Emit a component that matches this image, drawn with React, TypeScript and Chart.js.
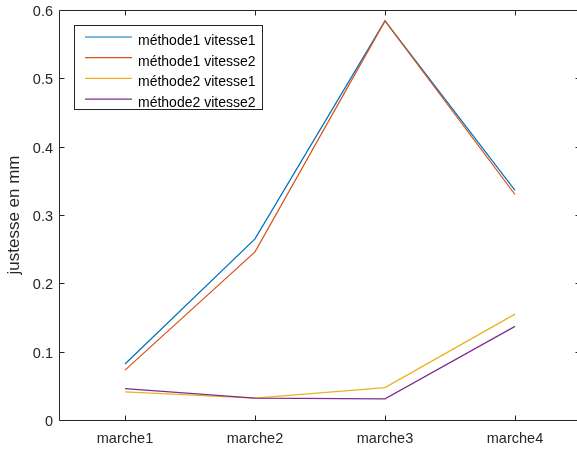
import React, { useEffect, useRef } from "react";
import { Chart, registerables } from "chart.js";

Chart.register(...registerables);

const categories = ["marche1", "marche2", "marche3", "marche4"];
const seriesNames = [
  "méthode1 vitesse1",
  "méthode1 vitesse2",
  "méthode2 vitesse1",
  "méthode2 vitesse2",
];
const methode1Vitesse1 = [0.082, 0.265, 0.584, 0.336];
const methode1Vitesse2 = [0.073, 0.246, 0.584, 0.33];
const methode2Vitesse1 = [0.041, 0.032, 0.0475, 0.155];
const methode2Vitesse2 = [0.046, 0.032, 0.031, 0.137];
const yTicks = [0, 0.1, 0.2, 0.3, 0.4, 0.5, 0.6];
const yTitle = "justesse en mm";

const colors = ["#0072BD", "#D95319", "#EDB120", "#7E2F8E"];
const AXIS = "#262626";
const FONT = "'Liberation Sans', Arial, Helvetica, sans-serif";

const boxPlugin = {
  id: "matlabBox",
  afterDatasetsDraw(chart: any) {
    const ctx = chart.ctx;
    const a = chart.chartArea;
    const xs = chart.scales.x;
    const ys = chart.scales.y;
    const L = Math.round(a.left) - 0.5;
    const R = Math.round(a.right) + 0.5;
    const T = Math.round(a.top) + 0.5;
    const B = Math.round(a.bottom) + 0.5;
    const tl = 5;
    ctx.save();
    ctx.strokeStyle = AXIS;
    ctx.lineWidth = 1;
    ctx.beginPath();
    ctx.moveTo(L, T);
    ctx.lineTo(R, T);
    ctx.lineTo(R, B);
    ctx.lineTo(L, B);
    ctx.closePath();
    categories.forEach((_, i) => {
      const px = Math.round(xs.getPixelForValue(i)) + 0.5;
      ctx.moveTo(px, B);
      ctx.lineTo(px, B - tl);
      ctx.moveTo(px, T);
      ctx.lineTo(px, T + tl);
    });
    yTicks.forEach((v) => {
      const py = Math.round(ys.getPixelForValue(v)) + 0.5;
      ctx.moveTo(L, py);
      ctx.lineTo(L + tl, py);
      ctx.moveTo(R, py);
      ctx.lineTo(R - tl, py);
    });
    ctx.stroke();

    // legend
    const lx0 = 74.5, ly0 = 25.5, lx1 = 262.5, ly1 = 109.5;
    ctx.fillStyle = "#ffffff";
    ctx.fillRect(lx0, ly0, lx1 - lx0, ly1 - ly0);
    ctx.strokeStyle = AXIS;
    ctx.strokeRect(lx0, ly0, lx1 - lx0, ly1 - ly0);
    ctx.font = `14px ${FONT}`;
    ctx.textBaseline = "alphabetic";
    ctx.textAlign = "left";
    seriesNames.forEach((name, i) => {
      const y = 37 + i * 20.7;
      ctx.strokeStyle = colors[i];
      ctx.lineWidth = 1.2;
      ctx.beginPath();
      ctx.moveTo(85, y);
      ctx.lineTo(132, y);
      ctx.stroke();
      ctx.fillStyle = "#000000";
      ctx.fillText(name, 138, y + 8);
    });
    ctx.restore();
  },
};

export default function App() {
  const ref = useRef<HTMLCanvasElement>(null);
  useEffect(() => {
    if (!ref.current) return;
    const data = [methode1Vitesse1, methode1Vitesse2, methode2Vitesse1, methode2Vitesse2];
    const chart = new Chart(ref.current, {
      type: "line",
      data: {
        labels: categories,
        datasets: data.map((d, i) => ({
          label: seriesNames[i],
          data: d,
          borderColor: colors[i],
          backgroundColor: colors[i],
          borderWidth: 1.25,
          pointRadius: 0,
          tension: 0,
          fill: false,
          order: data.length - i,
        })),
      },
      options: {
        animation: false,
        responsive: false,
        maintainAspectRatio: false,
        layout: { padding: { top: 10, right: 20, left: 0, bottom: 0 } },
        plugins: {
          legend: { display: false },
          tooltip: { enabled: false },
        },
        scales: {
          x: {
            type: "category",
            offset: true,
            grid: { display: false, drawTicks: false },
            border: { display: false },
            ticks: {
              padding: 10,
              color: AXIS,
              font: { family: FONT, size: 14.5 },
              maxRotation: 0,
              autoSkip: false,
            },
            afterFit: (s: any) => {
              s.height = 30;
              s.paddingLeft = 0;
              s.paddingRight = 0;
              s.paddingTop = 0;
              s.paddingBottom = 0;
            },
          },
          y: {
            min: 0,
            max: 0.6,
            grid: { display: false, drawTicks: false },
            border: { display: false },
            ticks: {
              stepSize: 0.1,
              padding: 7,
              labelOffset: 2,
              color: AXIS,
              font: { family: FONT, size: 14.5 },
              callback: (v: any) => {
                const n = Math.round(Number(v) * 10) / 10;
                return n === 0 ? "0" : n.toFixed(1);
              },
            },
            title: {
              display: true,
              text: yTitle,
              color: AXIS,
              font: { family: FONT, size: 17 },
              padding: { top: 4, bottom: 0 },
            },
            afterFit: (s: any) => {
              s.width = 60;
              s.paddingTop = 0;
              s.paddingBottom = 0;
              s.paddingLeft = 0;
              s.paddingRight = 0;
            },
          },
        },
      },
      plugins: [boxPlugin],
    });
    return () => chart.destroy();
  }, []);

  return (
    <div
      style={{
        position: "fixed",
        left: 0,
        top: 0,
        width: 577,
        height: 450,
        overflow: "hidden",
        background: "#ffffff",
      }}
    >
      <canvas ref={ref} width={600} height={450} style={{ width: 600, height: 450, display: "block" }} />
    </div>
  );
}
